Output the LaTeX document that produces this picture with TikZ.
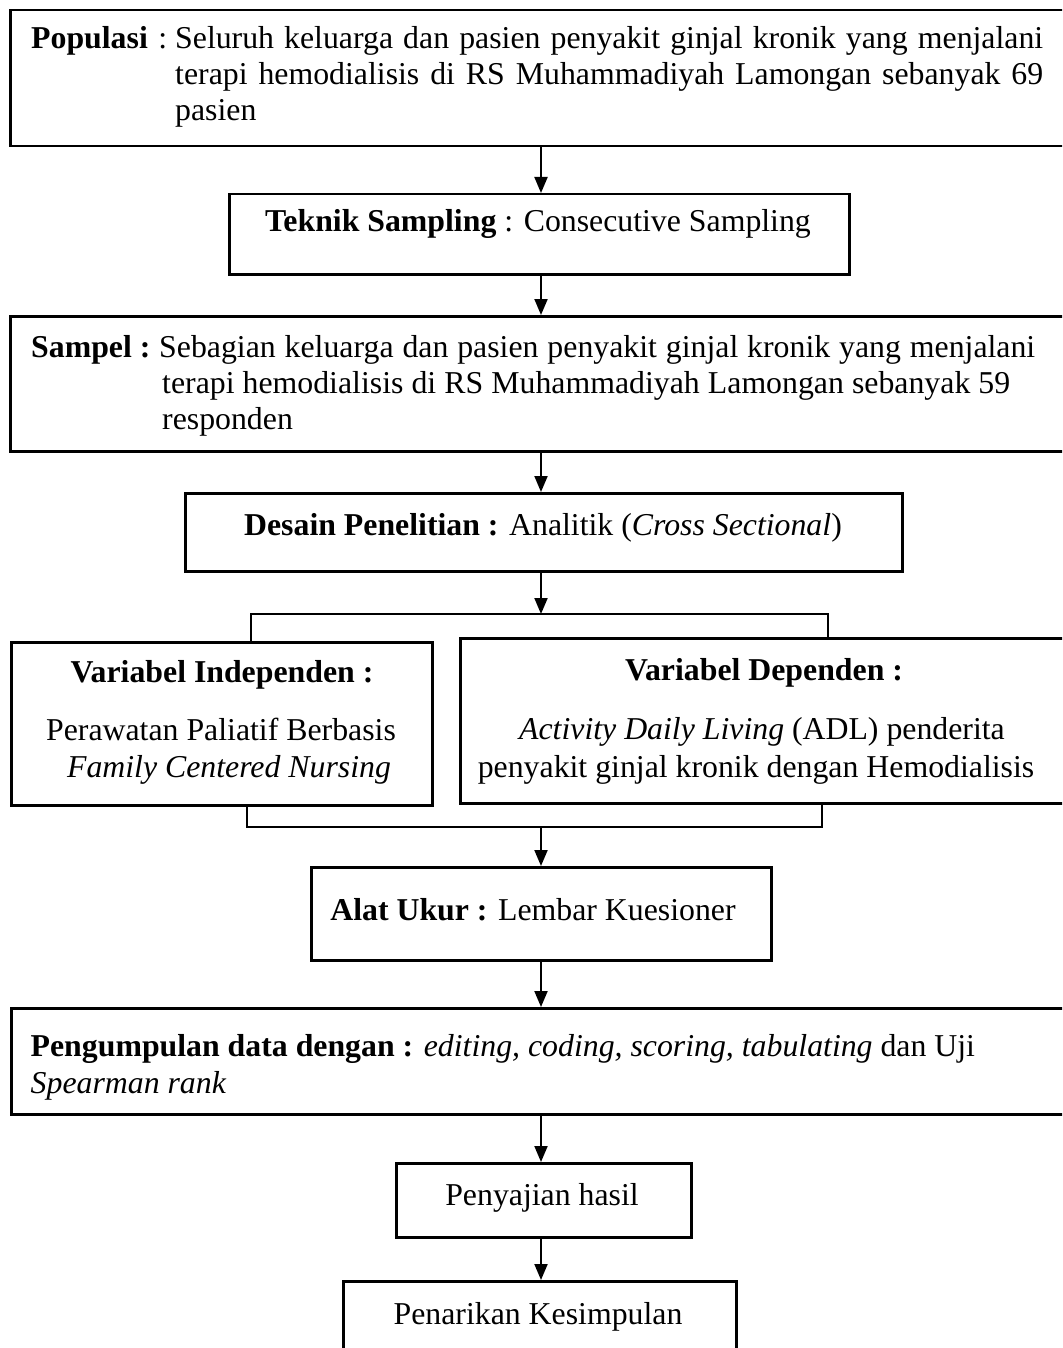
\documentclass[tikz,border=0pt]{standalone}
\usepackage{fontspec}
\setmainfont{Liberation Serif}
\usetikzlibrary{arrows.meta}
\begin{document}
\begin{tikzpicture}[x=1pt,y=-1pt,
  box/.style={draw, line width=2.5pt, inner sep=0pt, anchor=north west},
  lbl/.style={inner sep=0pt, font=\fontsize{31.8}{37}\selectfont},
  arr/.style={line width=2pt, -{Triangle[length=16pt,width=13pt]}},
  brk/.style={line width=1.2pt}]
\useasboundingbox (0,0) rectangle (1062,1348);
\clip (0,0) rectangle (1062,1348);
% boxes
\node[box, minimum width=1067pt, minimum height=136pt] (pop) at (9,9) {};
\node[box, minimum width=620pt, minimum height=80pt] (tek) at (228,193) {};
\node[box, minimum width=1067pt, minimum height=135pt] (sam) at (9,315) {};
\node[box, minimum width=717pt, minimum height=78pt] (des) at (184,492) {};
\node[box, minimum width=421pt, minimum height=163pt] (ind) at (10,641) {};
\node[box, minimum width=615pt, minimum height=165pt] (dep) at (459,637) {};
\node[box, minimum width=460pt, minimum height=93pt] (ala) at (310,866) {};
\node[box, minimum width=1065pt, minimum height=106pt] (pen) at (10,1007) {};
\node[box, minimum width=295pt, minimum height=74pt] (saj) at (395,1162) {};
\node[box, minimum width=393pt, minimum height=100pt] (tar) at (342,1280) {};
% texts
\node[lbl, anchor=base west] (popa) at (31,49) {\textbf{Populasi}\hspace{10.5pt}:};
\node[lbl, anchor=base west] (popb) at (175,49) {\makebox[868pt][s]{Seluruh keluarga dan pasien penyakit ginjal kronik yang menjalani}};
\node[lbl, anchor=base west] (popc) at (175,85) {\makebox[868pt][s]{terapi hemodialisis di RS Muhammadiyah Lamongan sebanyak 69}};
\node[lbl, anchor=base west] (popd) at (175,121) {pasien};
\node[lbl, anchor=base] (tekt) at (538,232) {\textbf{Teknik Sampling} : Consecutive Sampling};
\node[lbl, anchor=base west] (sama) at (31,357) {\textbf{Sampel :}};
\node[lbl, anchor=base west] (samb) at (159,357) {\makebox[876pt][s]{Sebagian keluarga dan pasien penyakit ginjal kronik yang menjalani}};
\node[lbl, anchor=base west] (samc) at (162,393) {\makebox[848pt][s]{terapi hemodialisis di RS Muhammadiyah Lamongan sebanyak 59}};
\node[lbl, anchor=base west] (samd) at (162,429) {responden};
\node[lbl, anchor=base] (dest) at (543,535) {\textbf{Desain Penelitian :} Analitik (\textit{Cross Sectional})};
\node[lbl, anchor=base] (inda) at (222,682) {\textbf{Variabel Independen :}};
\node[lbl, anchor=base] (indb) at (221,740) {Perawatan Paliatif Berbasis};
\node[lbl, anchor=base] (indc) at (229,777) {\textit{Family Centered Nursing}};
\node[lbl, anchor=base] (depa) at (764,680) {\textbf{Variabel Dependen :}};
\node[lbl, anchor=base] (depb) at (762,739) {\textit{Activity Daily Living} (ADL) penderita};
\node[lbl, anchor=base] (depc) at (756,777) {penyakit ginjal kronik dengan Hemodialisis};
\node[lbl, anchor=base] (alat) at (533,920) {\textbf{Alat Ukur :} Lembar Kuesioner};
\node[lbl, anchor=base west] (pena) at (30.5,1056) {\textbf{Pengumpulan data dengan :} \textit{editing, coding, scoring, tabulating} dan Uji};
\node[lbl, anchor=base west] (penb) at (30.5,1093) {\textit{Spearman rank}};
\node[lbl, anchor=base] (sajt) at (542,1205) {Penyajian hasil};
\node[lbl, anchor=base] (tart) at (538,1324) {Penarikan Kesimpulan};
% connector coordinates
\coordinate (ax) at (541,0);
\coordinate (btl) at (251,614);
\coordinate (btr) at (828,614);
\coordinate (bbl) at (247,827);
\coordinate (bbr) at (822,827);
% connectors
\draw[arr] (pop.south -| ax) -- (tek.north -| ax);
\draw[arr] (tek.south -| ax) -- (sam.north -| ax);
\draw[arr] (sam.south -| ax) -- (des.north -| ax);
\draw[arr] (des.south -| ax) -- (ax |- btl);
\draw[brk] (ind.north -| btl) -- (btl) -- (btr) -- (dep.north -| btr);
\draw[brk] (ind.south -| bbl) -- (bbl) -- (bbr) -- (dep.south -| bbr);
\draw[arr] (ax |- bbl) -- (ala.north -| ax);
\draw[arr] (ala.south -| ax) -- (pen.north -| ax);
\draw[arr] (pen.south -| ax) -- (saj.north -| ax);
\draw[arr] (saj.south -| ax) -- (tar.north -| ax);
\end{tikzpicture}
\end{document}
